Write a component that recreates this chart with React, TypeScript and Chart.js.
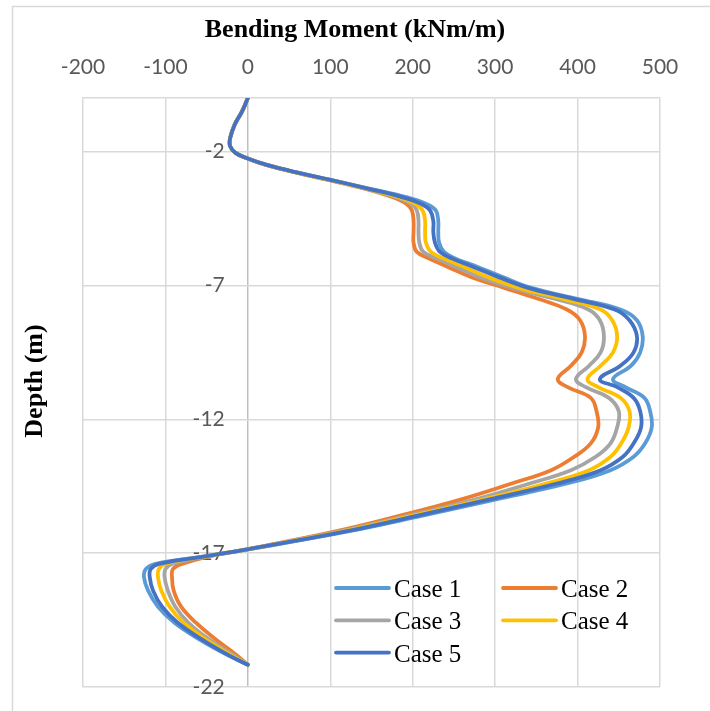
import React, { useEffect, useRef } from 'react';
import { Chart, registerables } from 'chart.js';

Chart.register(...registerables);

// Depth (m) shared by all cases
const depth = [
  0, -0.5, -1.0, -1.5, -1.8, -2.05, -2.25, -2.5, -2.8, -3.05,
  -3.4, -3.7, -3.95, -4.2, -4.6, -5.0, -5.4, -5.75, -6.0, -6.3,
  -6.7, -7.1, -7.5, -7.9, -8.3, -8.9, -9.5, -10.0, -10.5, -10.8,
  -11.2, -11.7, -12.3, -12.9, -13.4, -13.9, -14.4, -15.0, -15.6, -16.2,
  -16.85, -17.1, -17.4, -17.6, -17.9, -18.4, -19.0, -19.6, -20.2, -20.8,
  -21.17,
];

// Bending moment (kNm/m)
const case1 = [
  0, -7, -16, -21.5, -21.5, -15, -1, 23, 62, 99,
  150, 192, 216, 228, 231, 231, 232, 238, 252, 278,
  310, 345, 400, 452, 472, 479, 476, 465, 443, 458,
  481, 488, 490, 482, 468, 440, 387, 300, 212, 120,
  2, -48, -112, -124, -126, -121, -109, -89, -60, -25,
  0,
];
const case2 = [
  0, -7, -16, -21.5, -21.5, -15, -1, 22, 60, 96,
  143, 175, 192, 199, 201, 201, 201, 205, 220, 242,
  272, 312, 352, 387, 403, 409, 405, 392, 376, 388,
  416, 423, 425, 416, 396, 368, 320, 258, 185, 105,
  0, -44, -80, -91, -92, -90, -81, -63, -40, -14,
  0,
];
const case3 = [
  0, -7, -16, -21.5, -21.5, -15, -1, 22, 61, 97,
  145, 179, 198, 205, 207, 207, 208, 213, 230, 252,
  282, 322, 372, 413, 427, 432, 428, 414, 398, 410,
  438, 450, 448, 440, 422, 392, 342, 275, 195, 110,
  1, -46, -92, -100, -101, -97, -88, -72, -48, -18,
  0,
];
const case4 = [
  0, -7, -16, -21.5, -21.5, -15, -1, 23, 61, 98,
  146, 182, 203, 212, 215, 215, 216, 222, 238, 262,
  292, 330, 382, 428, 442, 448, 443, 428, 412, 425,
  452, 463, 462, 453, 440, 414, 362, 285, 200, 113,
  1, -47, -100, -108, -109, -105, -95, -78, -52, -21,
  0,
];
const case5 = [
  0, -7, -16, -21.5, -21.5, -15, -1, 23, 62, 99,
  148, 187, 210, 221, 225, 225, 227, 233, 248, 273,
  305, 341, 395, 445, 463, 472, 468, 452, 427, 448,
  468, 476, 477, 468, 455, 428, 375, 292, 206, 117,
  1, -48, -108, -118, -119, -115, -104, -85, -57, -24,
  0,
];

const seriesNames = ['Case 1', 'Case 2', 'Case 3', 'Case 4', 'Case 5'];
const seriesValues = [case1, case2, case3, case4, case5];
const seriesColors = ['#5B9BD5', '#ED7D31', '#A5A5A5', '#FFC000', '#4472C4'];

const yTickValues = [-22, -17, -12, -7, -2];
const xMin = -200;
const xMax = 500;
const xStep = 100;

const chartTitle = 'Bending Moment (kNm/m)';
const yTitle = 'Depth (m)';

const GRID = '#d9d9d9';
const TICK_FONT = { family: 'Lato, "Open Sans", sans-serif', size: 21 };
const SERIF = '"Liberation Serif", "Times New Roman", serif';

const framePlugin = {
  id: 'frame',
  beforeDraw(chart: any) {
    const { ctx } = chart;
    ctx.save();
    ctx.strokeStyle = GRID;
    ctx.lineWidth = 1.5;
    ctx.beginPath();
    ctx.moveTo(12.5, 711);
    ctx.lineTo(12.5, 6.5);
    ctx.lineTo(710, 6.5);
    ctx.stroke();
    ctx.restore();
  },
};

const titlesPlugin = {
  id: 'titles',
  afterDraw(chart: any) {
    const { ctx } = chart;
    ctx.save();
    ctx.font = `bold 26px ${SERIF}`;
    ctx.fillStyle = '#000';
    ctx.textAlign = 'center';
    ctx.textBaseline = 'middle';
    ctx.fillText(chartTitle, 355, 30);
    ctx.translate(35, 381);
    ctx.rotate(-Math.PI / 2);
    ctx.fillText(yTitle, 0, 0);
    ctx.restore();
  },
};

const legendPlugin = {
  id: 'caseLegend',
  afterDatasetsDraw(chart: any) {
    const { ctx } = chart;
    ctx.save();
    ctx.font = `25px ${SERIF}`;
    ctx.fillStyle = '#000';
    ctx.textBaseline = 'alphabetic';
    ctx.textAlign = 'left';
    chart.data.datasets.forEach((ds: any, i: number) => {
      const col = i % 2;
      const row = Math.floor(i / 2);
      const lx = 336 + col * 167;
      const ly = 588 + row * 32.3;
      ctx.strokeStyle = ds.borderColor;
      ctx.lineWidth = 3.8;
      ctx.lineCap = 'round';
      ctx.beginPath();
      ctx.moveTo(lx, ly);
      ctx.lineTo(lx + 53, ly);
      ctx.stroke();
      ctx.fillText(ds.label, lx + 58, ly + 9);
    });
    ctx.restore();
  },
};

export default function App() {
  const canvasRef = useRef<HTMLCanvasElement>(null);

  useEffect(() => {
    const canvas = canvasRef.current;
    if (!canvas) return;
    const datasets = seriesValues.map((vals, i) => ({
      label: seriesNames[i],
      data: vals.map((v, k) => ({ x: v, y: depth[k] })),
      borderColor: seriesColors[i],
      backgroundColor: seriesColors[i],
      borderWidth: 3.8,
      showLine: true,
      pointRadius: 0,
      pointHoverRadius: 0,
      tension: 0.4,
      fill: false,
      borderJoinStyle: 'round' as const,
      borderCapStyle: 'round' as const,
      order: 5 - i,
      xAxisID: 'x',
      yAxisID: 'y',
    }));

    const chart = new Chart(canvas, {
      type: 'scatter',
      data: { datasets },
      options: {
        responsive: false,
        animation: false,
        devicePixelRatio: 1,
        layout: { padding: { left: 83, top: 0, right: 50, bottom: 24 } },
        plugins: {
          legend: { display: false },
          tooltip: { enabled: false },
          title: { display: false },
        },
        scales: {
          x: {
            type: 'linear',
            position: 'top',
            min: xMin,
            max: xMax,
            ticks: { stepSize: xStep, color: '#595959', font: TICK_FONT, padding: 18 },
            grid: {
              color: (c: any) => (c.tick && c.tick.value === 0 ? '#bfbfbf' : GRID),
              lineWidth: 1.5,
              drawTicks: false,
            },
            border: { color: GRID, width: 1.5 },
            afterFit: (s: any) => { s.height = 98; },
          },
          y: {
            type: 'linear',
            position: { x: -28 } as any,
            min: -22,
            max: 0,
            afterBuildTicks: (s: any) => { s.ticks = yTickValues.map((v) => ({ value: v })); },
            ticks: { color: '#595959', font: TICK_FONT, padding: 0 },
            grid: { color: GRID, lineWidth: 1.5, drawTicks: false },
            border: { display: false },
          },
        },
      } as any,
      plugins: [framePlugin, legendPlugin, titlesPlugin],
    });
    return () => chart.destroy();
  }, []);

  return (
    <div style={{ position: 'absolute', left: 0, top: 0, width: 710, height: 711, background: '#fff' }}>
      <canvas ref={canvasRef} width={710} height={711} style={{ display: 'block' }} />
    </div>
  );
}
